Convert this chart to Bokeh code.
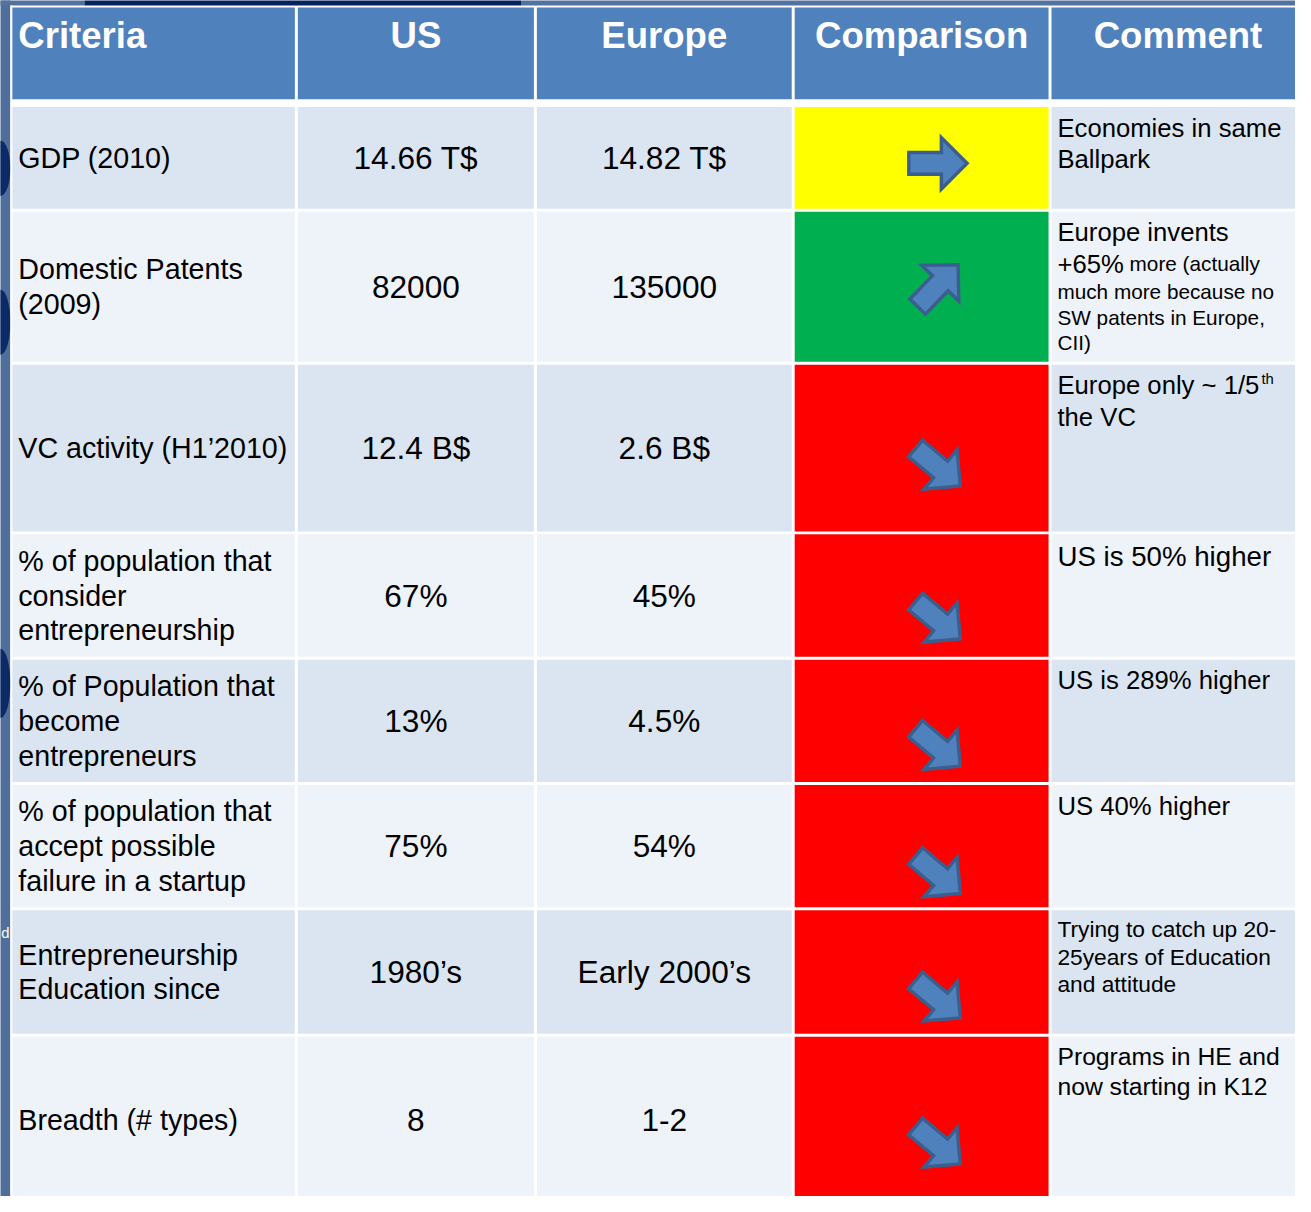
import math
from bokeh.plotting import figure
from bokeh.models import Range1d, ColumnDataSource
from bokeh.embed import file_html
from bokeh.resources import INLINE
from bokeh.core.properties import value

# ---------------- data ----------------
headers = ["Criteria", "US", "Europe", "Comparison", "Comment"]
criteria = [
    ["GDP (2010)"],
    ["Domestic Patents", "(2009)"],
    ["VC activity (H1\u20192010)"],
    ["% of population that", "consider", "entrepreneurship"],
    ["% of Population that", "become", "entrepreneurs"],
    ["% of population that", "accept possible", "failure in a startup"],
    ["Entrepreneurship", "Education since"],
    ["Breadth (# types)"],
]
us_values = ["14.66 T$", "82000", "12.4 B$", "67%", "13%", "75%", "1980\u2019s", "8"]
europe_values = ["14.82 T$", "135000", "2.6 B$", "45%", "4.5%", "54%", "Early 2000\u2019s", "1-2"]
comparison = ["same", "better", "worse", "worse", "worse", "worse", "worse", "worse"]
comments = [
    ["Economies in same", "Ballpark"],
    ["Europe invents", ["+65%", " more (actually"], "much more because no",
     "SW patents in Europe,", "CII)"],
    [["Europe only ~ 1/5", "th"], "the VC"],
    ["US is 50% higher"],
    ["US is 289% higher"],
    ["US 40% higher"],
    ["Trying to catch up 20-", "25years of Education", "and attitude"],
    ["Programs in HE and", "now starting in K12"],
]
margin_fragment = "d"

# ---------------- layout / style ----------------
W, H = 1295, 1196
S = W / 1311.0
FONT = "Liberation Sans"
COL_L = [12, 301, 543, 804, 1064]
COL_R = [298, 540, 801, 1061, 1330]
HEAD_T, HEAD_B = 7, 100
ROW_T = [108, 214, 369, 541, 668, 795, 922, 1050]
ROW_B = [211, 366, 538, 665, 792, 919, 1047, 1218]
ARROW_Y = [165, 289, 473, 628, 757, 886, 1012, 1160]
ARROW_X = 949
HEADER_BG = "#4f81bd"
BAND = ["#dbe5f1", "#eef2f9"]
STATUS_COLOR = {"same": "#ffff00", "better": "#00b050", "worse": "#ff0000"}
STATUS_ANGLE = {"same": 0.0, "better": -46.0, "worse": 40.0}
COMMENT_SIZE = [26, 26, 26, 28, 26, 26, 23, 25]
SEG_SIZES = {(1, 1): [26, 21], (1, 2): [21], (1, 3): [21], (1, 4): [21], (2, 0): [26, 15]}
SUPERSCRIPT = {(2, 0): 1}
CRIT_SIZE, VAL_SIZE, HEAD_SIZE = 29, 32, 37

AW = {' ': .278, '+': .584, '6': .556, '5': .556, '%': .889, 'E': .667, 'u': .556,
      'r': .333, 'o': .556, 'p': .556, 'e': .556, 'n': .556, 'l': .222, 'y': .5,
      '~': .584, '1': .556, '/': .278}


def tw(t, size):
    return sum(AW.get(c, .556) for c in t) * size


p = figure(width=W, height=H, output_backend="svg", toolbar_location=None,
           x_range=Range1d(0, 1311), y_range=Range1d(1212, 0),
           min_border=0, background_fill_color="white", border_fill_color="white")
p.axis.visible = False
p.grid.visible = False
p.outline_line_color = None

# slide background fragments
p.quad(left=[-5], right=[10], top=[-5], bottom=[1220], fill_color="#4f6e9c", line_color=None)
p.quad(left=[-5, 527], right=[85, 1320], top=[-5, -5], bottom=[5, 5], fill_color="#52729f", line_color=None)
p.quad(left=[85], right=[527], top=[-5], bottom=[5], fill_color="#05225f", line_color=None)
p.ellipse(x=[0, 0, 0], y=[170, 326, 692], width=[20, 20, 20], height=[56, 66, 70],
          fill_color="#0b2a66", line_color=None)
p.quad(left=[10], right=[12], top=[5], bottom=[1220], fill_color="white", line_color=None)

# cells
cl, cr, ct, cb, cc = [], [], [], [], []
for j in range(len(headers)):
    cl.append(COL_L[j]); cr.append(COL_R[j]); ct.append(HEAD_T); cb.append(HEAD_B); cc.append(HEADER_BG)
for i in range(len(criteria)):
    for j in range(5):
        cl.append(COL_L[j]); cr.append(COL_R[j]); ct.append(ROW_T[i]); cb.append(ROW_B[i])
        cc.append(STATUS_COLOR[comparison[i]] if j == 3 else BAND[i % 2])
p.quad(left=cl, right=cr, top=ct, bottom=cb, fill_color=cc, line_color=None)

# arrows
shape = [(-29.5, -11), (3.5, -11), (3.5, -26), (29.5, 0), (3.5, 26), (3.5, 11), (-29.5, 11)]
axs, ays = [], []
for i, st in enumerate(comparison):
    a = math.radians(STATUS_ANGLE[st])
    ca, sa = math.cos(a), math.sin(a)
    axs.append([ARROW_X + x * ca - y * sa for x, y in shape])
    ays.append([ARROW_Y[i] + x * sa + y * ca for x, y in shape])
p.patches(xs=axs, ys=ays, fill_color="#4f81bd", line_color="#3a5f8f", line_width=3.5 * S,
          line_join="miter")

# texts
T = dict(x=[], y=[], text=[], size=[], color=[], align=[], style=[])


def add(x, y, t, size, color="black", align="left", style="normal"):
    T["x"].append(x); T["y"].append(y); T["text"].append(t)
    T["size"].append(f"{size * S:.2f}px"); T["color"].append(color)
    T["align"].append(align); T["style"].append(style)


hx = [18, 420.5, 672, 932.5, 1192]
for j, h in enumerate(headers):
    add(hx[j], 35, h, HEAD_SIZE, "white", "left" if j == 0 else "center", "bold")

for i in range(len(criteria)):
    cy = (ROW_T[i] + min(ROW_B[i], 1218)) / 2.0
    lines = criteria[i]
    lh = CRIT_SIZE * 1.22
    y0 = cy - lh * (len(lines) - 1) / 2.0
    for k, ln in enumerate(lines):
        add(18, y0 + k * lh, ln, CRIT_SIZE)
    add(420.5, cy, us_values[i], VAL_SIZE, align="center")
    add(672, cy, europe_values[i], VAL_SIZE, align="center")

    y = ROW_T[i] + 5
    prev_h = None
    for k, ln in enumerate(comments[i]):
        segs = ln if isinstance(ln, list) else [ln]
        sizes = SEG_SIZES.get((i, k), [COMMENT_SIZE[i]] * len(segs))
        sup = SUPERSCRIPT.get((i, k))
        main = [s for n, s in enumerate(sizes) if n != sup]
        h = max(main) * 1.22
        yc = y + h / 2.0 if prev_h is None else yc + (prev_h + h) / 2.0
        prev_h = h
        x = 1070
        for n, (sg, sz) in enumerate(zip(segs, sizes)):
            lead = len(sg) - len(sg.lstrip(" "))
            xs = x + tw(" " * lead, sz)
            if n == sup:
                add(xs + 2, yc - 6, sg.lstrip(" "), sz)
            else:
                add(xs, yc, sg.lstrip(" "), sz)
            x += tw(sg, sz)

# clipped letter of the slide behind the table, kept inside the narrow margin strip
add(5, 945, margin_fragment, 15, "white", "center")

src = ColumnDataSource(T)
p.text(x="x", y="y", text="text", source=src, text_font=value(FONT), text_font_size="size",
       text_color="color", text_align="align", text_font_style="style", text_baseline="middle")

open("out.html", "w").write(file_html(p, INLINE))
